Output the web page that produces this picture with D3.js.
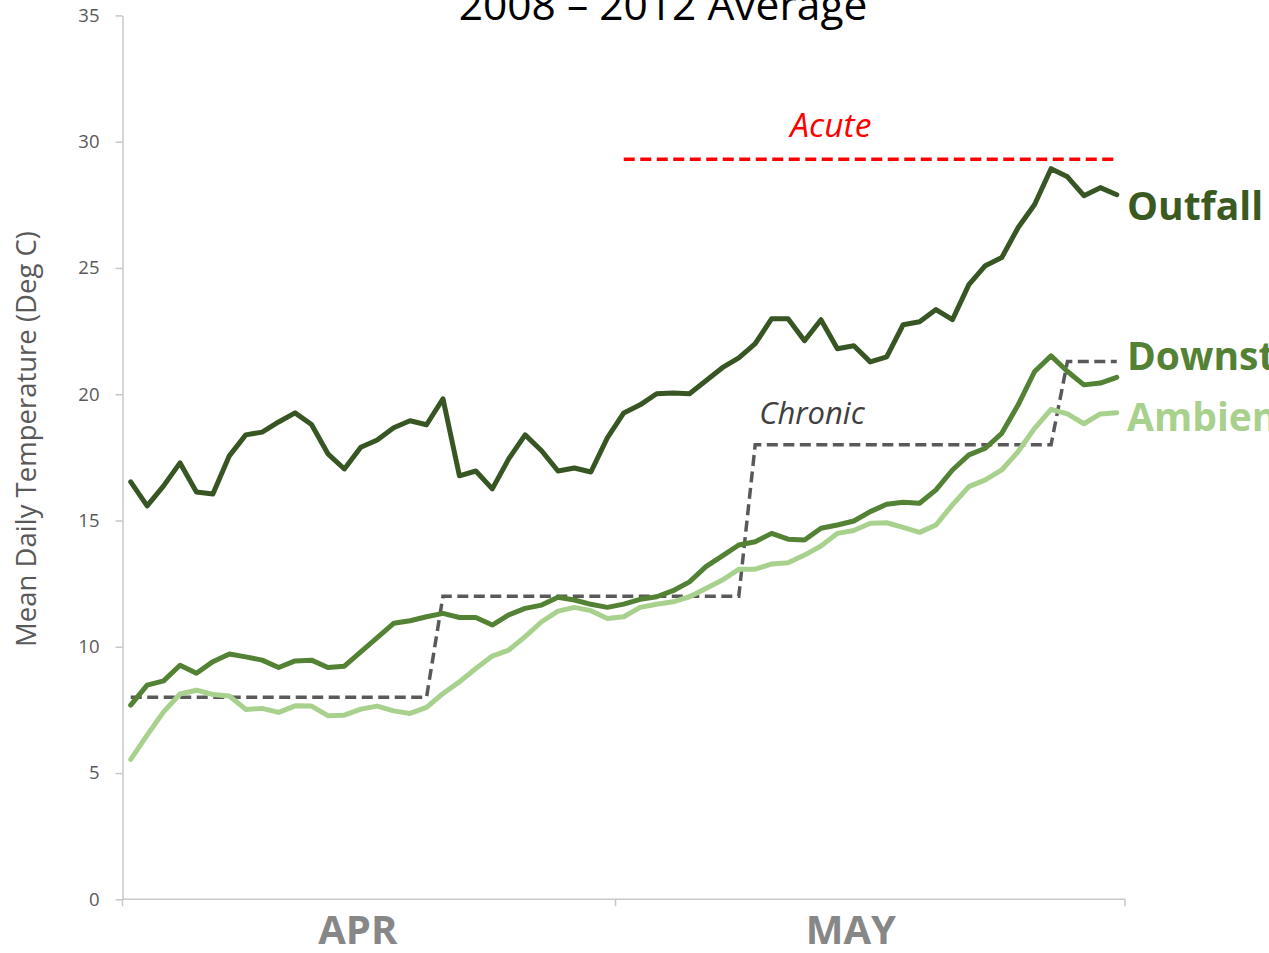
<!DOCTYPE html>
<html>
<head>
<meta charset="utf-8">
<script src="https://cdn.jsdelivr.net/npm/d3@7"></script>
<style>
  html, body { margin: 0; padding: 0; background: #fff; }
  svg { display: block; }
  text { font-family: "Open Sans", "Noto Sans", sans-serif; }
</style>
</head>
<body>
<svg id="chart" width="1269" height="953"></svg>
<script>
// ---------------- DATA ----------------
const months = ["APR", "MAY"];
const monthDays = [30, 31];
const monthLabelDay = [15, 15]; // mid-month day the label is centred on

const seriesNames = ["Outfall", "Downstream", "Ambient"];

const outfall = [16.53, 15.58, 16.37, 17.28, 16.13, 16.05, 17.56, 18.39, 18.5, 18.9,
  19.26, 18.8, 17.64, 17.04, 17.9, 18.19, 18.67, 18.95, 18.79, 19.82,
  16.77, 16.96, 16.25, 17.44, 18.39, 17.76, 16.96, 17.08, 16.92, 18.27,
  19.26, 19.58, 20.02, 20.05, 20.02, 20.53, 21.05, 21.44, 22.0, 22.99,
  22.99, 22.12, 22.95, 21.8, 21.92, 21.28, 21.48, 22.75, 22.87, 23.35,
  22.95, 24.34, 25.09, 25.41, 26.6, 27.51, 28.93, 28.61, 27.86, 28.18, 27.9];

const downstream = [7.69, 8.48, 8.65, 9.27, 8.95, 9.41, 9.71, 9.6, 9.47, 9.18,
  9.44, 9.47, 9.18, 9.23, 9.8, 10.36, 10.93, 11.03, 11.19, 11.32,
  11.16, 11.16, 10.86, 11.26, 11.52, 11.65, 11.96, 11.85, 11.68, 11.56,
  11.69, 11.88, 11.98, 12.22, 12.57, 13.17, 13.6, 14.03, 14.16, 14.49,
  14.26, 14.23, 14.69, 14.82, 14.98, 15.35, 15.64, 15.72, 15.68, 16.21,
  17.0, 17.6, 17.86, 18.45, 19.58, 20.9, 21.52, 20.9, 20.37, 20.44, 20.67];

const ambient = [5.54, 6.5, 7.42, 8.13, 8.28, 8.11, 8.05, 7.52, 7.56, 7.4,
  7.66, 7.65, 7.27, 7.29, 7.53, 7.65, 7.46, 7.36, 7.6, 8.15,
  8.61, 9.14, 9.63, 9.87, 10.4, 10.99, 11.41, 11.56, 11.43, 11.12,
  11.19, 11.56, 11.68, 11.78, 11.98, 12.31, 12.64, 13.07, 13.07, 13.28,
  13.33, 13.63, 13.99, 14.49, 14.6, 14.89, 14.91, 14.73, 14.53, 14.82,
  15.62, 16.34, 16.61, 17.0, 17.73, 18.65, 19.4, 19.22, 18.83, 19.22, 19.27];

const chronic = [8, 8, 8, 8, 8, 8, 8, 8, 8, 8,
  8, 8, 8, 8, 8, 8, 8, 8, 8, 12,
  12, 12, 12, 12, 12, 12, 12, 12, 12, 12,
  12, 12, 12, 12, 12, 12, 12, 12, 18, 18,
  18, 18, 18, 18, 18, 18, 18, 18, 18, 18,
  18, 18, 18, 18, 18, 18, 18, 21.3, 21.3, 21.3, 21.3];

const acuteValue = 29.3;
const acuteStartDay = "May 1";

const yTicks = [0, 5, 10, 15, 20, 25, 30, 35];
const titleText = "2008 \u2013 2012 Average";
const yTitle = "Mean Daily Temperature (Deg C)";

// ---------------- BUILD ----------------
const monthNamesShort = ["Apr", "May"];
const days = [];
months.forEach((m, mi) => {
  for (let d = 1; d <= monthDays[mi]; d++) days.push(monthNamesShort[mi] + " " + d);
});

const svg = d3.select("#chart");
const plotLeft = 122.5, plotRight = 1125, plotTop = 15.4, plotBottom = 899.3;

const x = d3.scalePoint().domain(days).range([plotLeft, plotRight]).padding(0.5);
const y = d3.scaleLinear().domain([0, 35]).range([plotBottom, plotTop]);

const axisColor = "#c8c8c8";
const labelColor = "#595959";

// Y axis
const yAxis = svg.append("g")
  .attr("transform", `translate(${plotLeft},0)`)
  .call(d3.axisLeft(y).tickValues(yTicks).tickSize(7).tickPadding(16).tickSizeOuter(0));
yAxis.select(".domain").attr("stroke", axisColor).attr("stroke-width", 1.5);
yAxis.selectAll(".tick line").attr("stroke", axisColor).attr("stroke-width", 1.5);
yAxis.selectAll(".tick text")
  .attr("fill", labelColor)
  .style("font-family", "'Open Sans', sans-serif")
  .style("font-size", "18.5px");

// X axis (month boundaries as ticks)
const monthStartIdx = [0];
monthDays.forEach((n, i) => monthStartIdx.push(monthStartIdx[i] + n));
const xEdge = idx => idx < days.length ? x(days[idx]) - x.step() / 2 : x(days[days.length - 1]) + x.step() / 2;

svg.append("line")
  .attr("x1", plotLeft).attr("x2", plotRight)
  .attr("y1", plotBottom).attr("y2", plotBottom)
  .attr("stroke", axisColor).attr("stroke-width", 1.5);
svg.selectAll(".xtick").data(monthStartIdx).enter().append("line")
  .attr("class", "xtick")
  .attr("x1", d => xEdge(d)).attr("x2", d => xEdge(d))
  .attr("y1", plotBottom).attr("y2", plotBottom + 7)
  .attr("stroke", axisColor).attr("stroke-width", 1.5);

svg.selectAll(".monthLabel").data(months).enter().append("text")
  .attr("class", "monthLabel")
  .attr("x", (d, i) => x(monthNamesShort[i] + " " + monthLabelDay[i]) - 3)
  .attr("y", 944)
  .attr("text-anchor", "middle")
  .attr("fill", "#878787")
  .style("font-size", "40px")
  .style("font-weight", "bold")
  .text(d => d);

// Y title
svg.append("text")
  .attr("transform", `translate(36,439) rotate(-90)`)
  .attr("text-anchor", "middle")
  .attr("fill", labelColor)
  .style("font-size", "27.5px")
  .text(yTitle);

// Title
svg.append("text")
  .attr("x", 663).attr("y", 20)
  .attr("text-anchor", "middle")
  .attr("fill", "#000")
  .style("font-size", "42.5px")
  .text(titleText);

// Line generator
const line = d3.line()
  .x((d, i) => x(days[i]))
  .y(d => y(d));

// Chronic dashed
svg.append("path")
  .datum(chronic)
  .attr("d", line)
  .attr("fill", "none")
  .attr("stroke", "#595959")
  .attr("stroke-width", 3.5)
  .attr("stroke-dasharray", "11,5.5");

// Acute dashed
const acuteStart = days.indexOf(acuteStartDay);
const acuteDays = days.slice(acuteStart);
svg.append("path")
  .datum(acuteDays)
  .attr("d", d3.line().x(d => x(d)).y(() => y(acuteValue)))
  .attr("fill", "none")
  .attr("stroke", "#ff0000")
  .attr("stroke-width", 3.5)
  .attr("stroke-dasharray", "11,5.5");

// Series
const seriesData = [outfall, downstream, ambient];
const seriesColors = ["#375623", "#548235", "#a9d18e"];
const textColors = ["#3b5a22", "#548235", "#a9d18e"];
seriesData.forEach((s, k) => {
  svg.append("path")
    .datum(s)
    .attr("d", line)
    .attr("fill", "none")
    .attr("stroke", seriesColors[k])
    .attr("stroke-width", 5)
    .attr("stroke-linejoin", "round")
    .attr("stroke-linecap", "round");
});

// Series labels at right end
const labelBaselines = [y(outfall[60]) + 25, y(downstream[60]) - 7, y(ambient[60]) + 18];
seriesNames.forEach((n, k) => {
  svg.append("text")
    .attr("x", 1127)
    .attr("y", labelBaselines[k])
    .attr("fill", textColors[k])
    .style("font-size", "39px")
    .style("font-weight", "bold")
    .text(n);
});

// Annotations
svg.append("text")
  .attr("x", x("May 15") - 23).attr("y", y(acuteValue) - 22)
  .attr("text-anchor", "middle")
  .attr("fill", "#ff0000")
  .style("font-size", "33.5px")
  .style("font-style", "italic")
  .text("Acute");

svg.append("text")
  .attr("x", x("May 9") + 4).attr("y", y(18) - 21)
  .attr("text-anchor", "start")
  .attr("fill", "#404040")
  .style("font-size", "31px")
  .style("font-style", "italic")
  .text("Chronic");
</script>
</body>
</html>
